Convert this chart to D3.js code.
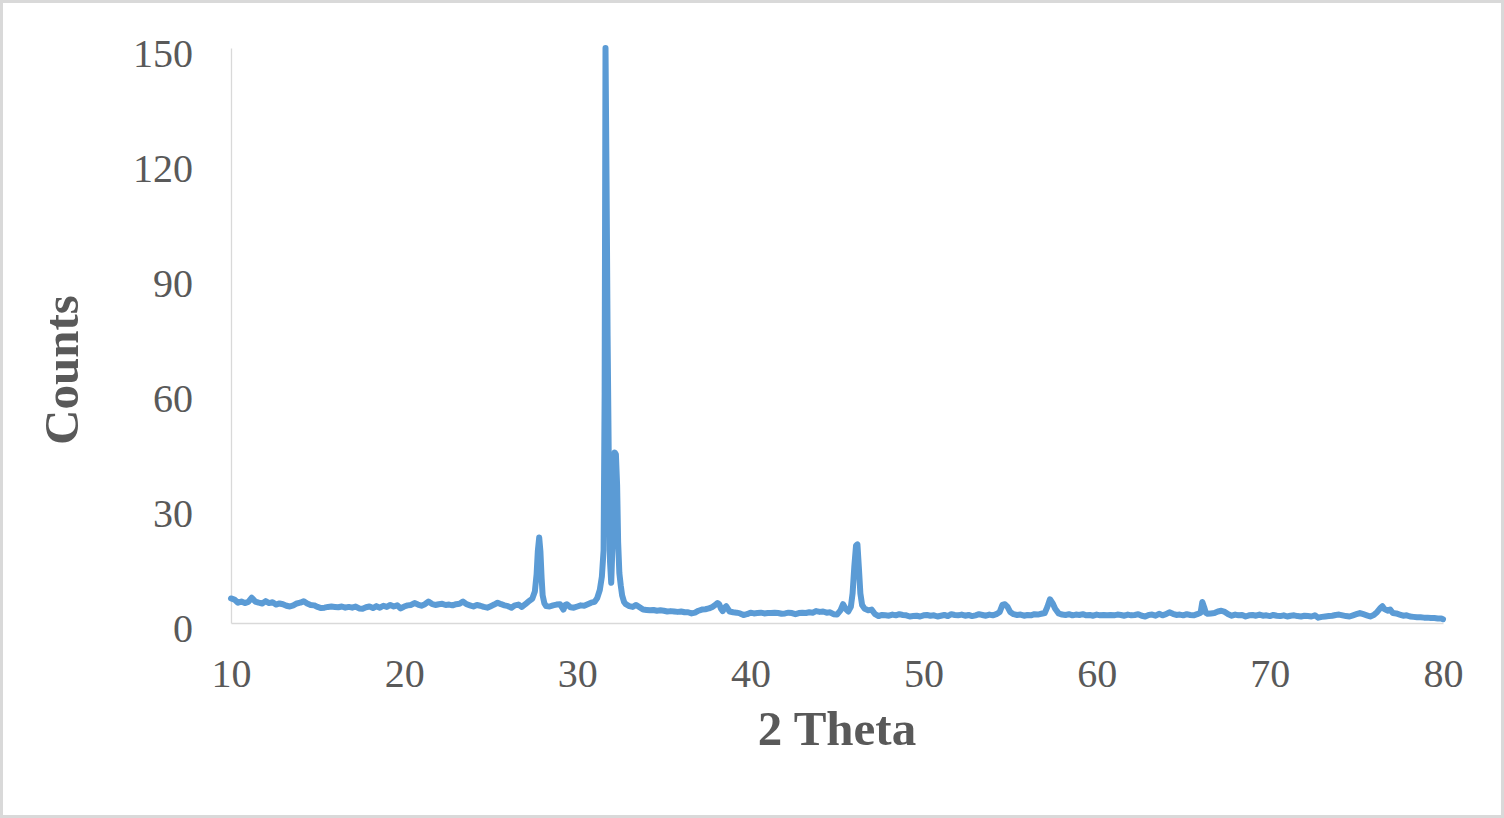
<!DOCTYPE html>
<html>
<head>
<meta charset="utf-8">
<script src="https://cdn.jsdelivr.net/npm/d3@7"></script>
<style>
  html, body { margin: 0; padding: 0; background: #fff; }
  svg { display: block; }
</style>
</head>
<body>
<svg id="chart" width="1504" height="818"></svg>
<script>
// ---- data (2θ in degrees, counts) ----
const lowAngleBackground = [
  [10.0,6.4],[10.2,6.1],[10.4,5.3],[10.6,5.6],[10.8,5.2],[11.0,5.5],[11.2,6.6],[11.4,5.6],[11.6,5.3],[11.8,5.1],
  [12.0,5.7],[12.2,5.2],[12.4,5.4],[12.6,4.8],[12.8,5.1],[13.0,4.9],[13.2,4.5],[13.4,4.3],[13.6,4.6],[13.8,5.1],
  [14.0,5.3],[14.2,5.7],[14.4,5.1],[14.6,4.7],[14.8,4.6],[15.0,4.2],[15.2,3.9],[15.4,4.0],[15.6,4.2],[15.8,4.3],
  [16.0,4.2],[16.2,4.1],[16.4,4.3],[16.6,4.0],[16.8,4.2],[17.0,4.0],[17.2,4.3],[17.4,3.8],[17.6,3.7],[17.8,4.1],
  [18.0,4.3],[18.2,3.9],[18.4,4.4],[18.6,4.0],[18.8,4.5],[19.0,4.2],[19.2,4.7],[19.4,4.3],[19.6,4.6],[19.8,3.8],
  [20.0,4.3],[20.2,4.6],[20.4,4.7],[20.6,5.2],[20.8,4.8],[21.0,4.5],[21.2,4.9],[21.4,5.6],[21.6,5.0],[21.8,4.7],
  [22.0,4.9],[22.2,5.0],[22.4,4.7],[22.6,4.8],[22.8,4.6],[23.0,4.9],[23.2,5.0],[23.4,5.6],[23.6,4.9],[23.8,4.6],
  [24.0,4.3],[24.2,4.7],[24.4,4.5],[24.6,4.2],[24.8,4.0],[25.0,4.4],[25.2,4.8],[25.4,5.3],[25.6,4.9],[25.8,4.6],
  [26.0,4.4],[26.2,4.0],[26.4,4.6],[26.6,4.8],[26.8,4.2],[27.0,4.9],[27.2,5.7],[27.4,6.3]
];
const peak28 = [
  [27.55,8.2],[27.65,12.7],[27.72,18.7],[27.8,22.3],[27.87,18.7],[27.94,11.7],[28.0,7.2],[28.1,5.1],[28.2,4.4]
];
const preMainBackground = [
  [28.4,4.3],[28.6,4.6],[28.8,4.8],[29.0,4.9],[29.2,3.5],[29.3,4.7],[29.4,4.9],[29.6,4.1],[29.8,4.0],[30.0,4.3],
  [30.2,4.6],[30.4,4.5],[30.6,4.9],[30.8,5.3],[31.0,5.5],[31.15,6.5],[31.3,8.6],[31.42,12.1]
];
const mainPeak = [
  [31.52,19],[31.58,60],[31.63,150],[31.69,115],[31.75,75],[31.82,42],[31.89,16],[31.96,10.5],[32.03,20],[32.1,38],
  [32.16,44.5],[32.23,44],[32.3,36],[32.36,21],[32.43,13],[32.51,9.8],[32.59,7.2],[32.7,5.5]
];
const midBackground = [
  [32.8,4.9],[33.0,4.4],[33.2,4.2],[33.4,4.7],[33.6,4.1],[33.8,3.5],[34.0,3.4],[34.2,3.3],[34.4,3.4],[34.6,3.2],
  [34.8,3.3],[35.0,3.2],[35.2,3.0],[35.4,3.1],[35.6,3.0],[35.8,2.9],[36.0,3.0],[36.2,2.8],[36.4,2.8],[36.6,2.5],
  [36.8,2.7],[37.0,3.2],[37.2,3.5],[37.4,3.6],[37.6,3.8],[37.8,4.2],[38.0,4.8],[38.1,5.2],[38.2,4.9],[38.3,3.7],
  [38.4,3.1],[38.5,4.0],[38.6,4.4],[38.7,3.7],[38.8,3.0],[39.0,2.8],[39.2,2.7],[39.4,2.5],[39.6,2.1],[39.8,2.3],
  [40.0,2.7],[40.2,2.5],[40.4,2.6],[40.6,2.7],[40.8,2.5],[41.0,2.6],[41.2,2.6],[41.4,2.7],[41.6,2.6],[41.8,2.4],
  [42.0,2.5],[42.2,2.7],[42.4,2.6],[42.6,2.3],[42.8,2.6],[43.0,2.7],[43.2,2.6],[43.4,2.8],[43.6,2.7],[43.8,3.1],
  [44.0,2.9],[44.2,3.0],[44.4,2.7],[44.6,2.8],[44.8,2.3],[45.0,2.2],[45.2,3.3],[45.35,4.9],[45.5,3.7],[45.65,3.0],
  [45.8,4.2]
];
const peak46 = [
  [45.9,7.7],[46.0,14.7],[46.1,20.2],[46.18,20.5],[46.26,14.7],[46.35,7.7],[46.45,4.7],[46.6,3.7],[46.8,3.3],[47.0,3.5]
];
const highAngleBackground = [
  [47.2,2.3],[47.4,1.8],[47.6,2.1],[47.8,2.0],[48.0,1.9],[48.2,2.2],[48.4,2.0],[48.6,2.3],[48.8,2.1],[49.0,2.0],
  [49.2,1.7],[49.4,1.8],[49.6,1.9],[49.8,1.7],[50.0,2.0],[50.2,2.1],[50.4,1.9],[50.6,2.0],[50.8,1.7],[51.0,1.9],
  [51.2,2.1],[51.4,1.8],[51.6,2.3],[51.8,2.1],[52.0,2.0],[52.2,2.2],[52.4,1.9],[52.6,2.1],[52.8,1.8],[53.0,2.0],
  [53.2,2.3],[53.4,2.1],[53.6,1.9],[53.8,2.2],[54.0,2.0],[54.2,2.3],[54.4,2.9],[54.55,4.7],[54.7,4.9],[54.85,4.2],
  [55.0,2.9],[55.2,2.3],[55.4,2.1],[55.6,2.2],[55.8,1.9],[56.0,2.1],[56.2,2.0],[56.4,2.3],[56.6,2.2],[56.8,2.4],
  [57.0,2.6],[57.15,4.2],[57.3,6.2],[57.45,5.2],[57.6,3.7],[57.8,2.5],[58.0,2.2],[58.2,2.1],[58.4,2.3],[58.6,2.0],
  [58.8,2.2],[59.0,2.1],[59.2,2.3],[59.4,2.0],[59.6,2.1],[59.8,1.9],[60.0,2.2],[60.2,2.0],[60.4,2.1],[60.6,2.0],
  [60.8,2.1],[61.0,2.0],[61.2,2.2],[61.4,2.1],[61.6,1.9],[61.8,2.2],[62.0,2.0],[62.2,2.1],[62.4,2.3],[62.6,1.9],
  [62.8,1.7],[63.0,2.1],[63.2,2.2],[63.4,1.9],[63.6,2.4],[63.8,2.0],[64.0,2.3],[64.2,2.8],[64.4,2.4],[64.6,2.1],
  [64.8,2.2],[65.0,2.0],[65.2,2.3],[65.4,2.1],[65.6,2.0],[65.8,2.3],[66.0,2.7],[66.1,5.5],[66.2,4.2],[66.3,2.7],
  [66.4,2.4],[66.6,2.5],[66.8,2.6],[67.0,3.0],[67.2,3.2],[67.4,2.9],[67.6,2.3],[67.8,1.9],[68.0,2.2],[68.2,2.0],
  [68.4,2.1],[68.6,1.7],[68.8,2.0],[69.0,2.1],[69.2,1.9],[69.4,2.2],[69.6,1.9],[69.8,2.0],[70.0,1.8],[70.2,2.1],
  [70.4,1.9],[70.6,1.8],[70.8,2.0],[71.0,1.7],[71.2,1.9],[71.4,2.0],[71.6,1.8],[71.8,1.7],[72.0,1.9],[72.2,1.8],
  [72.4,1.7],[72.6,2.0],[72.8,1.4],[73.0,1.6],[73.2,1.7],[73.4,1.8],[73.6,1.9],[73.8,2.1],[74.0,2.2],[74.2,2.0],
  [74.4,1.8],[74.6,1.7],[74.8,2.0],[75.0,2.3],[75.2,2.6],[75.4,2.3],[75.6,2.0],[75.8,1.7],[76.0,2.1],[76.2,2.9],
  [76.4,4.0],[76.5,4.4],[76.6,3.7],[76.8,3.2],[76.95,3.5],[77.1,2.6],[77.3,2.5],[77.5,2.2],[77.7,1.9],[77.9,2.0],
  [78.1,1.7],[78.3,1.6],[78.5,1.5],[78.7,1.5],[78.9,1.4],[79.1,1.4],[79.3,1.3],[79.5,1.3],[79.7,1.2],[79.9,1.2],
  [80.0,1.0]
];
const xTicks = [10, 20, 30, 40, 50, 60, 70, 80];
const yTicks = [0, 30, 60, 90, 120, 150];
const xTitle = "2 Theta";
const yTitle = "Counts";

const pattern = [].concat(lowAngleBackground, peak28, preMainBackground, mainPeak,
                          midBackground, peak46, highAngleBackground);

// ---- drawing ----
const svg = d3.select("#chart");
const W = 1504, H = 818;
const plot = { left: 231, right: 1443, top: 48, bottom: 623 };
const textColor = "#595959";
const gridColor = "#d9d9d9";
const fontFamily = "'Liberation Serif', 'Times New Roman', serif";

svg.append("rect").attr("x", 1.5).attr("y", 1.5).attr("width", W - 3).attr("height", H - 3)
  .attr("fill", "#fff").attr("stroke", gridColor).attr("stroke-width", 3);

const x = d3.scaleLinear().domain([10, 80]).range([plot.left, plot.right]);
const y = d3.scaleLinear().domain([0, 150]).range([plot.bottom, plot.top]);

const xAxis = d3.axisBottom(x).tickValues(xTicks).tickSize(0).tickPadding(0).tickFormat(d3.format("d"));
const yAxis = d3.axisLeft(y).tickValues(yTicks).tickSize(0).tickPadding(0).tickFormat(d3.format("d"));

const gx = svg.append("g").attr("transform", `translate(0,${plot.bottom})`).call(xAxis);
gx.select(".domain").attr("stroke", gridColor).attr("stroke-width", 1.3);
gx.selectAll("text")
  .attr("y", 64).attr("dy", null)
  .attr("fill", textColor).attr("font-family", fontFamily).attr("font-size", 40);

const gy = svg.append("g").attr("transform", `translate(${plot.left},0)`).call(yAxis);
gy.select(".domain").attr("stroke", gridColor).attr("stroke-width", 1.3);
gy.selectAll("text")
  .attr("x", -38).attr("dy", null).attr("y", 18.5)
  .attr("fill", textColor).attr("font-family", fontFamily).attr("font-size", 40);

const line = d3.line().x(d => x(d[0])).y(d => y(d[1]));
svg.append("path").datum(pattern)
  .attr("d", line)
  .attr("fill", "none")
  .attr("stroke", "#5b9bd5")
  .attr("stroke-width", 6)
  .attr("stroke-linejoin", "round")
  .attr("stroke-linecap", "round");

svg.append("text")
  .attr("x", (plot.left + plot.right) / 2).attr("y", 745)
  .attr("text-anchor", "middle")
  .attr("fill", textColor).attr("font-family", fontFamily)
  .attr("font-size", 49).attr("font-weight", "bold")
  .text(xTitle);

svg.append("text")
  .attr("transform", "translate(78,370) rotate(-90)")
  .attr("text-anchor", "middle")
  .attr("fill", textColor).attr("font-family", fontFamily)
  .attr("font-size", 49).attr("font-weight", "bold")
  .text(yTitle);
</script>
</body>
</html>
